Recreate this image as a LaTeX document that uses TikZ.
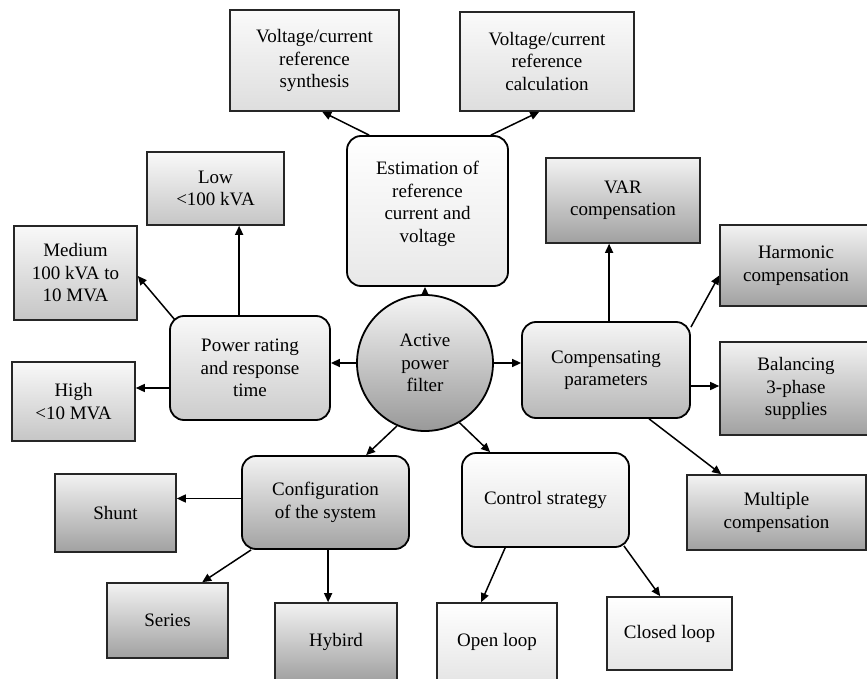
\documentclass[tikz,border=0pt]{standalone}
\usepackage{fontspec}
\setmainfont{Liberation Serif}
\usetikzlibrary{arrows.meta,shapes.geometric}
\begin{document}
\begin{tikzpicture}[x=1pt,y=-1pt,
  every node/.style={font=\fontsize{19}{22.5}\selectfont, align=center, inner sep=0pt},
  sz/.style 2 args={minimum width=#1, minimum height=#2},
  sqbox/.style={draw=black!85, line width=1.6pt, rectangle},
  rbox/.style={draw=black, line width=1.8pt, rectangle, rounded corners=14pt},
  lightsq/.style={sqbox, top color=gray!4, bottom color=gray!26},
  midsq/.style={sqbox, top color=gray!5, bottom color=gray!45},
  darksq/.style={sqbox, top color=gray!10, bottom color=gray!74},
  palesq/.style={sqbox, top color=white, bottom color=gray!20},
  conn/.style={-{Triangle[length=9pt,width=8pt]}, line width=1.5pt, draw=black}
]
\clip (0,0) rectangle (867,679);
\fill[white] (0,0) rectangle (867,679);

% top level
\node[lightsq, sz={169}{101}] (syn) at (314.5,60.5) {Voltage/current\\reference\\synthesis};
\node[lightsq, sz={174}{99}] (calc) at (547,61.5) {Voltage/current\\reference\\calculation};
\node[rbox, top color=white, bottom color=gray!18, sz={161}{150},
  label={[name=estlbl, yshift=7pt]center:{Estimation of\\reference\\current and\\voltage}}] (est) at (427.5,211) {};

% power rating branch
\node[midsq, sz={137}{73}] (low) at (215.5,188.5) {Low\\<100 kVA};
\node[midsq, sz={123}{94}] (med) at (75.5,273) {Medium\\100 kVA to\\10 MVA};
\node[midsq, sz={123}{79}] (high) at (73.5,401.5) {High\\<10 MVA};
\node[rbox, top color=gray!5, bottom color=gray!40, sz={160}{104}] (pow) at (250,368) {Power rating\\and response\\time};

% centre
\node[circle, draw=black, line width=1.8pt, top color=gray!8, bottom color=gray!80, minimum size=136pt] (apf) at (425,363) {Active\\power\\filter};

% compensating branch
\node[rbox, top color=gray!8, bottom color=gray!56, sz={168}{96}] (comp) at (606,370) {Compensating\\parameters};
\node[darksq, sz={154}{85}] (var) at (623,200.5) {VAR\\compensation};
\node[darksq, sz={152}{81}] (harm) at (796,265.5) {Harmonic\\compensation};
\node[darksq, sz={152}{93}] (bal) at (796,388.5) {Balancing\\3-phase\\supplies};
\node[darksq, sz={179}{75}] (mult) at (776.5,512.5) {Multiple\\compensation};

% configuration branch
\node[rbox, top color=gray!10, bottom color=gray!72, sz={167}{93}] (conf) at (325.5,502.5) {Configuration\\of the system};
\node[darksq, sz={121}{78}] (shunt) at (115.5,513) {Shunt};
\node[darksq, sz={121}{75}] (series) at (167.5,620.5) {Series};
\node[darksq, sz={122}{78}] (hyb) at (336,642) {Hybird};

% control branch
\node[rbox, top color=white, bottom color=gray!26, sz={167}{94}] (ctrl) at (545.5,500) {Control strategy};
\node[palesq, sz={120}{78}] (open) at (497,642) {Open loop};
\node[palesq, sz={125}{73}] (closed) at (669.5,633.5) {Closed loop};

% connectors
\draw[conn] (apf.north) -- (apf.north |- est.south);
\draw[conn] ([xshift=23]est.north west) -- ([xshift=93]syn.south west);
\draw[conn] ([xshift=-18]est.north east) -- ([xshift=80]calc.south west);

\draw[conn] (apf.west) -- (apf.west -| pow.east);
\draw[conn] (apf.east) -- (apf.east -| comp.west);

\coordinate (p1) at ([xshift=70]pow.north west);
\draw[conn] (p1) -- (p1 |- low.south);
\draw[conn] ([xshift=6,yshift=-5]pow.north west) -- ([yshift=-3]med.east);
\coordinate (p2) at ([yshift=-20]pow.west);
\draw[conn] (p2) -- (p2 -| high.east);

\coordinate (c1) at ([xshift=88]comp.north west);
\draw[conn] (c1) -- (c1 |- var.south);
\draw[conn] ([yshift=-6]comp.north east) -- ([yshift=-10]harm.west);
\coordinate (c2) at ([yshift=-16]comp.east);
\draw[conn] (c2) -- (c2 -| bal.west);
\draw[conn] ([xshift=128]comp.south west) -- ([xshift=35]mult.north west);

\draw[conn] (apf.246) -- ([xshift=125]conf.north west);
\draw[conn] (apf.300) -- ([xshift=29]ctrl.north west);

\coordinate (f1) at ([yshift=4]conf.west);
\draw[conn] (f1) -- (f1 -| shunt.east);
\draw[conn] ([xshift=10]conf.south west) -- ([xshift=96]series.north west);
\coordinate (f2) at ([xshift=87]conf.south west);
\draw[conn] (f2) -- (f2 |- hyb.north);

\draw[conn] ([xshift=44]ctrl.south west) -- ([xshift=45]open.north west);
\draw[conn] ([xshift=-6,yshift=2]ctrl.south east) -- ([xshift=54]closed.north west);
\end{tikzpicture}
\end{document}
